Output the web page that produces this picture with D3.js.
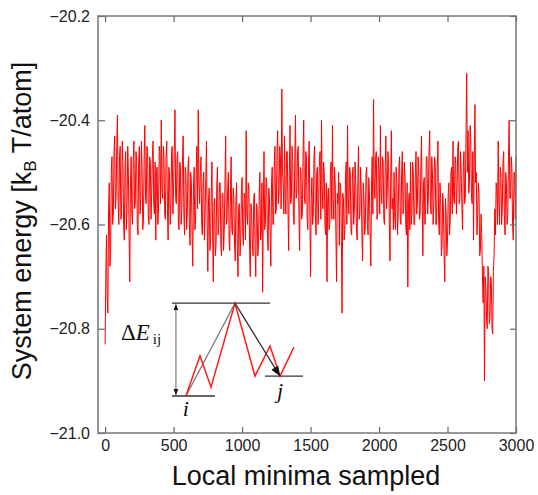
<!DOCTYPE html>
<html>
<head>
<meta charset="utf-8">
<script src="https://cdn.jsdelivr.net/npm/d3@7"></script>
<style>
body { margin: 0; background: #fff; }
</style>
</head>
<body>
<div id="chart"></div>
<script>
var xTicks = [0, 500, 1000, 1500, 2000, 2500, 3000];
var yTicks = [-21.0, -20.8, -20.6, -20.4, -20.2];

// one value every 5 sampled minima (20 per row = 100 minima)
var sampleStep = 5;
var energy = [
    -20.83,-20.70,-20.62,-20.74,-20.77,-20.58,-20.52,-20.68,-20.66,-20.50,-20.47,-20.60,-20.58,-20.46,-20.43,-20.57,-20.55,-20.45,-20.39,-20.56,
    -20.60,-20.47,-20.45,-20.59,-20.58,-20.44,-20.48,-20.60,-20.63,-20.49,-20.46,-20.61,-20.57,-20.45,-20.50,-20.62,-20.71,-20.52,-20.47,-20.58,
    -20.60,-20.48,-20.44,-20.57,-20.56,-20.46,-20.47,-20.60,-20.62,-20.48,-20.45,-20.58,-20.55,-20.44,-20.49,-20.61,-20.59,-20.47,-20.41,-20.55,
    -20.56,-20.45,-20.46,-20.58,-20.60,-20.47,-20.48,-20.59,-20.54,-20.47,-20.44,-20.56,-20.58,-20.48,-20.63,-20.50,-20.49,-20.60,-20.57,-20.45,
    -20.46,-20.56,-20.40,-20.53,-20.55,-20.45,-20.47,-20.58,-20.59,-20.47,-20.44,-20.57,-20.63,-20.49,-20.50,-20.60,-20.57,-20.46,-20.45,-20.58,
    -20.53,-20.46,-20.38,-20.55,-20.56,-20.47,-20.46,-20.60,-20.61,-20.48,-20.49,-20.60,-20.57,-20.47,-20.43,-20.58,-20.62,-20.49,-20.50,-20.61,
    -20.58,-20.49,-20.47,-20.60,-20.64,-20.50,-20.52,-20.62,-20.68,-20.53,-20.49,-20.61,-20.60,-20.50,-20.45,-20.57,-20.38,-20.52,-20.56,-20.50,
    -20.47,-20.60,-20.62,-20.52,-20.50,-20.63,-20.58,-20.51,-20.44,-20.60,-20.69,-20.55,-20.53,-20.65,-20.63,-20.54,-20.48,-20.62,-20.71,-20.56,
    -20.55,-20.66,-20.64,-20.53,-20.49,-20.62,-20.60,-20.52,-20.52,-20.64,-20.66,-20.54,-20.54,-20.65,-20.61,-20.52,-20.43,-20.60,-20.59,-20.53,
    -20.50,-20.63,-20.65,-20.54,-20.47,-20.61,-20.62,-20.53,-20.55,-20.64,-20.67,-20.55,-20.52,-20.64,-20.70,-20.57,-20.56,-20.66,-20.63,-20.54,
    -20.51,-20.62,-20.64,-20.54,-20.55,-20.63,-20.42,-20.58,-20.60,-20.52,-20.53,-20.65,-20.70,-20.56,-20.58,-20.64,-20.66,-20.55,-20.54,-20.65,
    -20.70,-20.56,-20.57,-20.66,-20.64,-20.54,-20.50,-20.63,-20.62,-20.52,-20.73,-20.58,-20.46,-20.61,-20.60,-20.51,-20.52,-20.62,-20.65,-20.53,
    -20.55,-20.62,-20.68,-20.52,-20.49,-20.60,-20.60,-20.48,-20.45,-20.58,-20.57,-20.46,-20.42,-20.56,-20.54,-20.45,-20.47,-20.57,-20.34,-20.50,
    -20.52,-20.58,-20.43,-20.55,-20.58,-20.46,-20.46,-20.57,-20.65,-20.50,-20.41,-20.56,-20.55,-20.45,-20.48,-20.59,-20.60,-20.47,-20.39,-20.55,
    -20.54,-20.46,-20.45,-20.58,-20.65,-20.49,-20.50,-20.59,-20.58,-20.47,-20.40,-20.55,-20.56,-20.46,-20.47,-20.59,-20.61,-20.48,-20.44,-20.58,
    -20.70,-20.55,-20.51,-20.60,-20.58,-20.47,-20.45,-20.58,-20.62,-20.50,-20.49,-20.60,-20.55,-20.47,-20.46,-20.59,-20.40,-20.53,-20.57,-20.48,
    -20.50,-20.60,-20.62,-20.52,-20.71,-20.55,-20.53,-20.61,-20.60,-20.50,-20.48,-20.59,-20.41,-20.55,-20.59,-20.49,-20.52,-20.62,-20.71,-20.54,
    -20.56,-20.50,-20.64,-20.52,-20.53,-20.63,-20.77,-20.54,-20.55,-20.63,-20.61,-20.51,-20.48,-20.60,-20.41,-20.55,-20.58,-20.49,-20.50,-20.61,
    -20.62,-20.51,-20.49,-20.60,-20.57,-20.48,-20.52,-20.61,-20.63,-20.52,-20.45,-20.59,-20.58,-20.49,-20.53,-20.62,-20.67,-20.52,-20.55,-20.62,
    -20.60,-20.50,-20.49,-20.60,-20.62,-20.51,-20.54,-20.62,-20.68,-20.53,-20.47,-20.58,-20.36,-20.52,-20.55,-20.47,-20.46,-20.59,-20.58,-20.47,
    -20.50,-20.58,-20.41,-20.54,-20.56,-20.47,-20.48,-20.59,-20.60,-20.49,-20.43,-20.57,-20.54,-20.46,-20.49,-20.60,-20.67,-20.51,-20.42,-20.57,
    -20.55,-20.61,-20.50,-20.59,-20.61,-20.49,-20.52,-20.62,-20.58,-20.49,-20.47,-20.59,-20.60,-20.50,-20.46,-20.58,-20.57,-20.48,-20.51,-20.60,
    -20.62,-20.52,-20.72,-20.56,-20.54,-20.61,-20.48,-20.60,-20.58,-20.48,-20.50,-20.60,-20.60,-20.50,-20.46,-20.58,-20.56,-20.47,-20.49,-20.59,
    -20.58,-20.49,-20.43,-20.56,-20.66,-20.52,-20.51,-20.60,-20.57,-20.47,-20.47,-20.58,-20.55,-20.46,-20.42,-20.56,-20.58,-20.47,-20.50,-20.60,
    -20.56,-20.47,-20.48,-20.60,-20.60,-20.49,-20.44,-20.59,-20.62,-20.52,-20.55,-20.66,-20.64,-20.54,-20.57,-20.66,-20.71,-20.55,-20.58,-20.66,
    -20.63,-20.54,-20.52,-20.62,-20.59,-20.50,-20.49,-20.58,-20.44,-20.55,-20.56,-20.47,-20.48,-20.58,-20.53,-20.45,-20.44,-20.56,-20.55,-20.46,
    -20.50,-20.57,-20.61,-20.49,-20.46,-20.56,-20.55,-20.43,-20.31,-20.50,-20.42,-20.54,-20.52,-20.41,-20.44,-20.55,-20.56,-20.46,-20.63,-20.48,
    -20.37,-20.52,-20.50,-20.62,-20.58,-20.52,-20.54,-20.66,-20.65,-20.58,-20.62,-20.70,-20.75,-20.68,-20.90,-20.70,-20.72,-20.78,-20.80,-20.68,
    -20.69,-20.79,-20.78,-20.70,-20.71,-20.80,-20.81,-20.69,-20.66,-20.57,-20.62,-20.52,-20.53,-20.60,-20.44,-20.56,-20.60,-20.49,-20.50,-20.60,
    -20.57,-20.48,-20.46,-20.58,-20.62,-20.50,-20.52,-20.60,-20.58,-20.47,-20.40,-20.55,-20.55,-20.47,-20.49,-20.60,-20.63,-20.50,-20.50,-20.59,
    -20.47
];

// inset sketch (barrier between minima i and j), in data units
var insetLevels = [[488, 1204, -20.751], [488, 802, -20.929], [1167, 1445, -20.891]];
var insetRed = [[590, -20.929], [693, -20.852], [773, -20.912], [948, -20.751],
                [1094, -20.891], [1204, -20.833], [1277, -20.891], [1379, -20.835]];
var insetUp = [[590, -20.929], [948, -20.751]];
var insetDown = [[948, -20.751], [1277, -20.891]];
var insetBarX = 517;

var w = 538, h = 495;
var plotLeft = 98, plotRight = 516, plotTop = 16, plotBottom = 433;

var svg = d3.select("#chart")
    .append("svg")
    .attr("width", w)
    .attr("height", h);

var x = d3.scaleLinear().domain([-52, 3000]).range([plotLeft, plotRight]);
var y = d3.scaleLinear().domain([-21.0, -20.2]).range([plotBottom, plotTop]);

var defs = svg.append("defs");
defs.append("marker")
    .attr("id", "head")
    .attr("viewBox", "0 0 10 10")
    .attr("refX", 10).attr("refY", 5)
    .attr("markerWidth", 6).attr("markerHeight", 6)
    .attr("markerUnits", "userSpaceOnUse")
    .attr("orient", "auto-start-reverse")
    .append("path")
    .attr("d", "M0,1 L10,5 L0,9 Z")
    .attr("fill", "#111");
defs.append("marker")
    .attr("id", "bigHead")
    .attr("viewBox", "0 0 10 10")
    .attr("refX", 10).attr("refY", 5)
    .attr("markerWidth", 10).attr("markerHeight", 10)
    .attr("markerUnits", "userSpaceOnUse")
    .attr("orient", "auto")
    .append("path")
    .attr("d", "M0,1 L10,5 L0,9 Z")
    .attr("fill", "#111");

// trace
var line = d3.line()
    .x(function(d, i) { return x(i * sampleStep); })
    .y(function(d) { return y(d); });

svg.append("path")
    .datum(energy)
    .attr("d", line)
    .attr("fill", "none")
    .attr("stroke", "#ff0000")
    .attr("stroke-width", 1)
    .attr("stroke-linejoin", "bevel");

// axes, ticks pointing inwards
var tickFont = function(g) {
    g.select(".domain").remove();
    g.selectAll(".tick line").attr("stroke", "#666").attr("stroke-width", 1.2);
    g.selectAll("text")
        .attr("font-family", "'Liberation Sans', Arial, sans-serif")
        .attr("font-size", "16px")
        .attr("fill", "#222");
};

svg.append("g")
    .attr("transform", "translate(0," + plotBottom + ")")
    .call(d3.axisBottom(x).tickValues(xTicks).tickSizeInner(-6).tickSizeOuter(0).tickPadding(7).tickFormat(d3.format("d")))
    .call(tickFont);
svg.append("g")
    .attr("transform", "translate(0," + plotTop + ")")
    .call(d3.axisTop(x).tickValues(xTicks).tickSizeInner(-6).tickSizeOuter(0).tickFormat(""))
    .call(tickFont);
svg.append("g")
    .attr("transform", "translate(" + plotLeft + ",0)")
    .call(d3.axisLeft(y).tickValues(yTicks).tickSizeInner(-7).tickSizeOuter(0).tickPadding(8).tickFormat(d3.format(".1f")))
    .call(tickFont);
svg.append("g")
    .attr("transform", "translate(" + plotRight + ",0)")
    .call(d3.axisRight(y).tickValues(yTicks).tickSizeInner(-6).tickSizeOuter(0).tickFormat(""))
    .call(tickFont);

svg.append("rect")
    .attr("x", plotLeft).attr("y", plotTop)
    .attr("width", plotRight - plotLeft).attr("height", plotBottom - plotTop)
    .attr("fill", "none")
    .attr("stroke", "#777")
    .attr("stroke-width", 1.5);

// axis titles
svg.append("text")
    .attr("x", 306).attr("y", 485)
    .attr("text-anchor", "middle")
    .attr("font-family", "'Liberation Sans', Arial, sans-serif")
    .attr("font-size", "27px")
    .attr("fill", "#111")
    .text("Local minima sampled");

var yTitle = svg.append("text")
    .attr("transform", "translate(31,221) rotate(-90)")
    .attr("text-anchor", "middle")
    .attr("font-family", "'Liberation Sans', Arial, sans-serif")
    .attr("font-size", "27px")
    .attr("fill", "#111");
yTitle.append("tspan").text("System energy [k");
yTitle.append("tspan").attr("font-size", "17px").attr("dy", 5).text("B");
yTitle.append("tspan").attr("dy", -5).text(" T/atom]");

// inset
var inset = svg.append("g");
inset.selectAll("line.level")
    .data(insetLevels)
    .enter()
    .append("line")
    .attr("x1", function(d) { return x(d[0]); })
    .attr("x2", function(d) { return x(d[1]); })
    .attr("y1", function(d) { return y(d[2]); })
    .attr("y2", function(d) { return y(d[2]); })
    .attr("stroke", "#333")
    .attr("stroke-width", 1.3);

inset.append("line")
    .attr("x1", x(insetBarX)).attr("x2", x(insetBarX))
    .attr("y1", y(insetLevels[1][2]) - 1).attr("y2", y(insetLevels[0][2]) + 1)
    .attr("stroke", "#888")
    .attr("stroke-width", 1.3)
    .attr("marker-start", "url(#head)")
    .attr("marker-end", "url(#head)");

var pt = d3.line()
    .x(function(d) { return x(d[0]); })
    .y(function(d) { return y(d[1]); });

inset.append("path")
    .datum(insetUp)
    .attr("d", pt)
    .attr("fill", "none")
    .attr("stroke", "#777")
    .attr("stroke-width", 1.3);
inset.append("path")
    .datum(insetRed)
    .attr("d", pt)
    .attr("fill", "none")
    .attr("stroke", "#ff1a1a")
    .attr("stroke-width", 1.5);
inset.append("path")
    .datum(insetDown)
    .attr("d", pt)
    .attr("fill", "none")
    .attr("stroke", "#333")
    .attr("stroke-width", 1.3)
    .attr("marker-end", "url(#bigHead)");

var dE = inset.append("text")
    .attr("x", 121).attr("y", 340)
    .attr("font-family", "'Liberation Serif', 'Times New Roman', serif")
    .attr("font-size", "23px")
    .attr("fill", "#111");
dE.append("tspan").text("\u0394");
dE.append("tspan").attr("font-style", "italic").text("E");
dE.append("tspan").attr("font-size", "15px").attr("dx", 3).attr("dy", 4).text("ij");

inset.append("text")
    .attr("x", x(insetUp[0][0])).attr("y", 416)
    .attr("text-anchor", "middle")
    .attr("font-family", "'Liberation Serif', 'Times New Roman', serif")
    .attr("font-style", "italic")
    .attr("font-size", "22px")
    .attr("fill", "#111")
    .text("i");
inset.append("text")
    .attr("x", x(insetDown[1][0])).attr("y", 398)
    .attr("text-anchor", "middle")
    .attr("font-family", "'Liberation Serif', 'Times New Roman', serif")
    .attr("font-style", "italic")
    .attr("font-size", "22px")
    .attr("fill", "#111")
    .text("j");
</script>
</body>
</html>
